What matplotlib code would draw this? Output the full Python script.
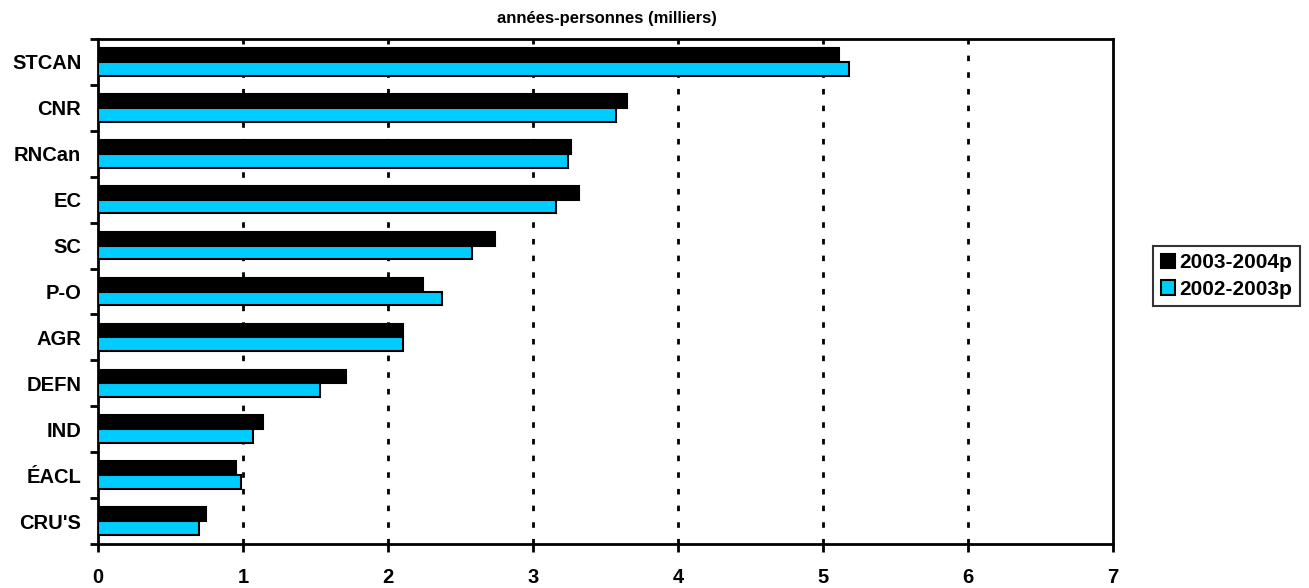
import numpy as np
import matplotlib
matplotlib.use('Agg')
import matplotlib.pyplot as plt

categories = ["STCAN", "CNR", "RNCan", "EC", "SC", "P-O", "AGR", "DEFN", "IND", "ÉACL", "CRU'S"]
y2004 = [5.11, 3.65, 3.26, 3.32, 2.74, 2.24, 2.10, 1.71, 1.135, 0.95, 0.745]
y2003 = [5.18, 3.57, 3.24, 3.16, 2.58, 2.37, 2.10, 1.53, 1.07, 0.985, 0.695]
series_names = ["2003-2004p", "2002-2003p"]

plt.rcParams['font.family'] = ['Liberation Sans', 'DejaVu Sans']
plt.rcParams['font.weight'] = 'bold'

fig = plt.figure(figsize=(13.09, 5.88), dpi=100)
ax = fig.add_axes([98 / 1309, 1 - 544 / 588, (1113 - 98) / 1309, (544 - 39) / 588])

y = np.arange(len(categories))
h = 0.3
ax.barh(y - h / 2, y2004, height=h, color='black', edgecolor='black', linewidth=1.5,
        label=series_names[0], zorder=3)
ax.barh(y + h / 2, y2003, height=h, color='#00CCFF', edgecolor='black', linewidth=1.5,
        label=series_names[1], zorder=3)

ax.set_xlim(0, 7)
ax.set_ylim(len(categories) - 0.5, -0.5)
ax.set_xticks(range(8))
ax.set_xticklabels([str(i) for i in range(8)], fontsize=14.5, fontweight='bold')
ax.set_yticks(y)
ax.set_yticklabels(categories, fontsize=14.5, fontweight='bold')
ax.set_yticks(np.arange(len(categories) + 1) - 0.5, minor=True)
ax.tick_params(axis='y', which='major', length=0, pad=12)
ax.tick_params(axis='y', which='minor', length=6, width=2, direction='out')
ax.tick_params(axis='x', which='major', length=6, width=2, direction='out', pad=11)

for xv in range(1, 7):
    ax.axvline(xv, color='black', linestyle=(0, (2, 4)), linewidth=2, zorder=1)

for s in ax.spines.values():
    s.set_linewidth(2)

fig.text(0.464, 1 - 18 / 588, "années-personnes (milliers)",
         ha='center', va='center', fontsize=12, fontweight='bold')

leg = fig.legend(loc='center', bbox_to_anchor=(0.937, 1 - 276 / 588),
                 fontsize=15, frameon=True, fancybox=False, handlelength=0.7,
                 handleheight=0.7, handletextpad=0.2, borderpad=0.35,
                 labelspacing=0.35, borderaxespad=0)
leg.get_frame().set_edgecolor('black')
leg.get_frame().set_linewidth(1.5)
for t in leg.get_texts():
    t.set_fontweight('bold')

fig.savefig('out.png', dpi=100)
